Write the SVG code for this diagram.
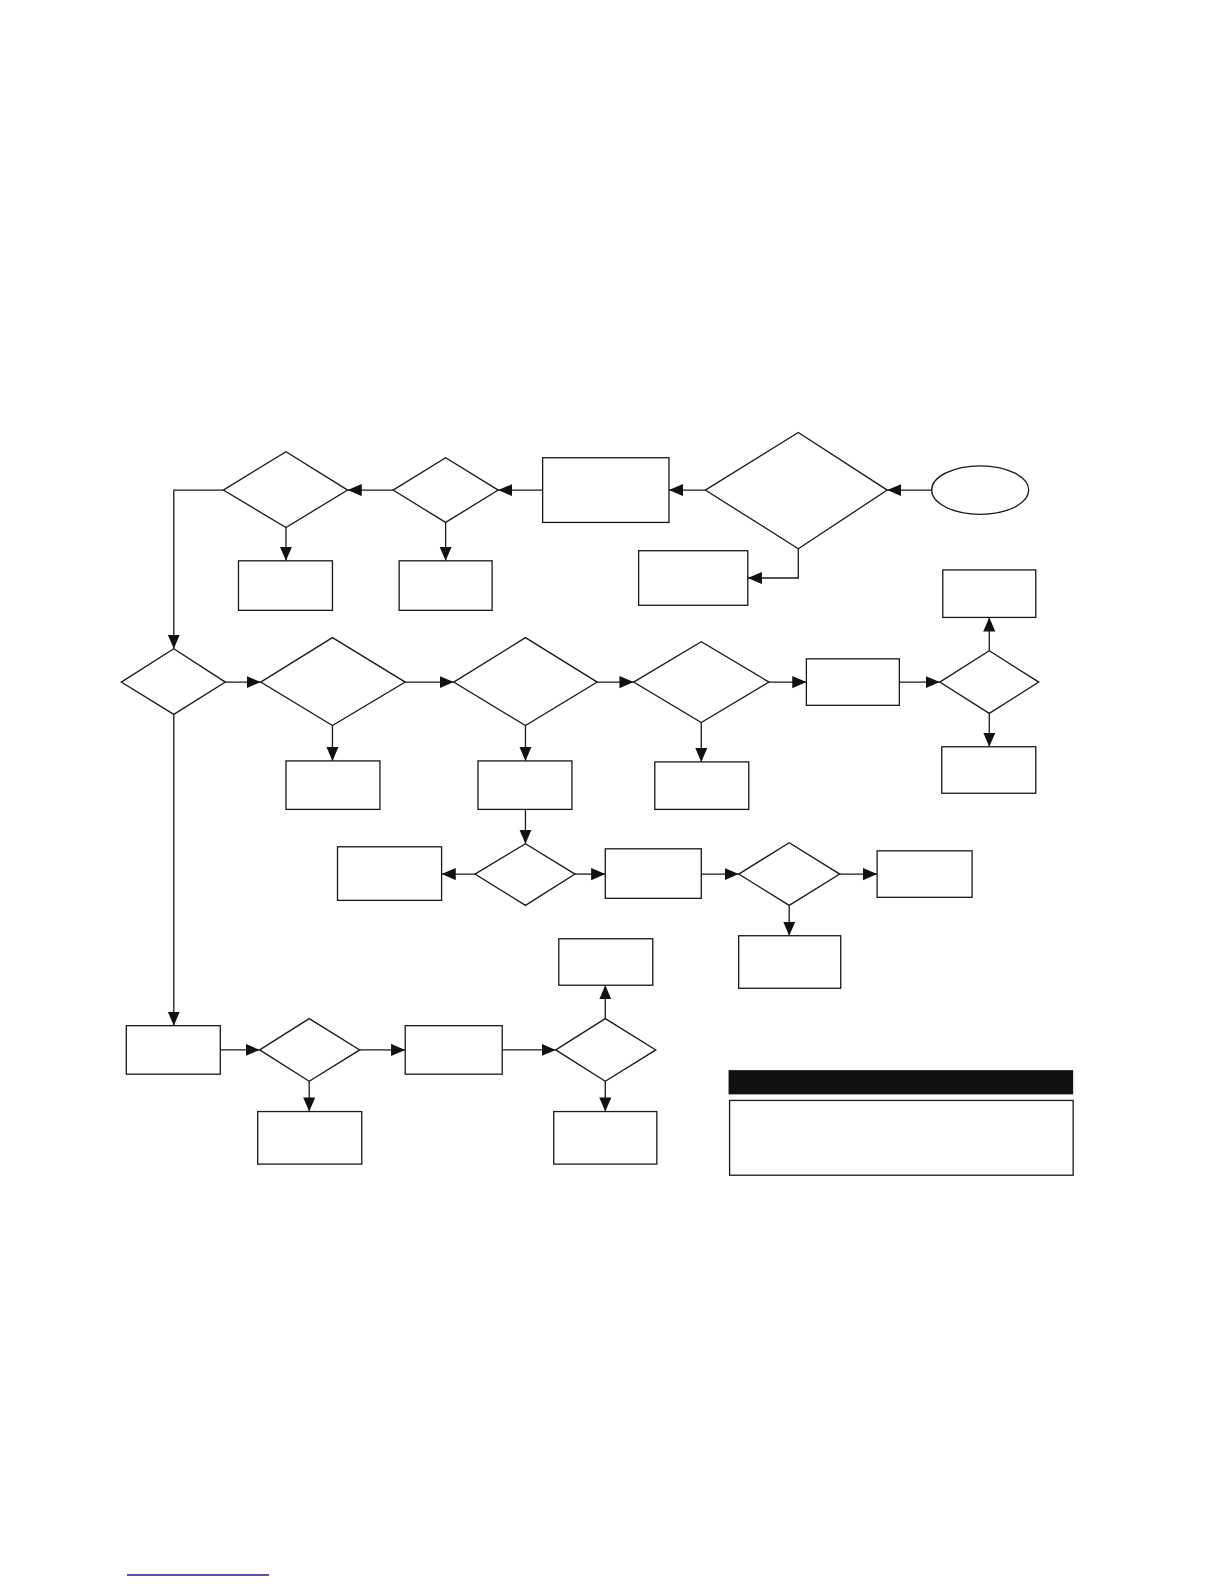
<svg xmlns="http://www.w3.org/2000/svg" width="1224" height="1584" viewBox="0 0 1224 1584">
<style>
.n{fill:#fff;stroke:#1a1a1a;stroke-width:1.3}
.c{fill:none;stroke:#1a1a1a;stroke-width:1.3;marker-end:url(#ah)}
</style>
<defs>
<marker id="ah" markerUnits="userSpaceOnUse" markerWidth="16" markerHeight="14" refX="14" refY="6" orient="auto">
<path d="M0,0 L14,6 L0,12 z" fill="#111"/>
</marker>
</defs>
<rect width="1224" height="1584" fill="#fff"/>
<g transform="scale(1.0105)">
<g id="connectors">
<path class="c" d="M922,485 H878"/>
<path class="c" d="M698,485 H662"/>
<path class="c" d="M790,543 V572 H740"/>
<path class="c" d="M537,485 H493"/>
<path class="c" d="M441,517 V555"/>
<path class="c" d="M389,485 H344"/>
<path class="c" d="M283,522 V555"/>
<path class="c" d="M221,485 H172 V642"/>
<path class="c" d="M223,675 H258"/>
<path class="c" d="M329,718 V753"/>
<path class="c" d="M401,675 H449"/>
<path class="c" d="M520,718 V753"/>
<path class="c" d="M591,675 H627"/>
<path class="c" d="M694,715 V754"/>
<path class="c" d="M761,675 H798"/>
<path class="c" d="M890,675 H930"/>
<path class="c" d="M979,644 V611"/>
<path class="c" d="M979,706 V739"/>
<path class="c" d="M520,801 V835"/>
<path class="c" d="M470,865 H437"/>
<path class="c" d="M569,865 H599"/>
<path class="c" d="M694,865 H731"/>
<path class="c" d="M831,865 H868"/>
<path class="c" d="M781,896 V926"/>
<path class="c" d="M172,707 V1015"/>
<path class="c" d="M218,1039 H257"/>
<path class="c" d="M306,1070 V1100"/>
<path class="c" d="M356,1039 H401"/>
<path class="c" d="M497,1039 H550"/>
<path class="c" d="M599,1008 V975"/>
<path class="c" d="M599,1070 V1100"/>
</g>
<g id="start"><ellipse class="n" cx="970" cy="485" rx="48" ry="24"/></g>
<g id="d1"><polygon class="n" points="698,485 790,428 878,485 790,543"/></g>
<g id="r1"><rect class="n" x="537" y="453" width="125" height="64"/></g>
<g id="r2"><rect class="n" x="632" y="545" width="108" height="54"/></g>
<g id="d2"><polygon class="n" points="389,485 441,453 493,485 441,517"/></g>
<g id="r3"><rect class="n" x="395" y="555" width="92" height="49"/></g>
<g id="d3"><polygon class="n" points="221,485 283,447 344,485 283,522"/></g>
<g id="r4"><rect class="n" x="236" y="555" width="93" height="49"/></g>
<g id="d4"><polygon class="n" points="120,675 172,642 223,675 172,707"/></g>
<g id="d5"><polygon class="n" points="258,675 329,631 401,675 329,718"/></g>
<g id="r5"><rect class="n" x="283" y="753" width="93" height="48"/></g>
<g id="d6"><polygon class="n" points="449,675 520,631 591,675 520,718"/></g>
<g id="r6"><rect class="n" x="473" y="753" width="93" height="48"/></g>
<g id="d7"><polygon class="n" points="627,675 694,635 761,675 694,715"/></g>
<g id="r7"><rect class="n" x="648" y="754" width="93" height="47"/></g>
<g id="r8"><rect class="n" x="798" y="652" width="92" height="46"/></g>
<g id="d8"><polygon class="n" points="930,675 979,644 1028,675 979,706"/></g>
<g id="r9"><rect class="n" x="933" y="564" width="92" height="47"/></g>
<g id="r10"><rect class="n" x="932" y="739" width="93" height="46"/></g>
<g id="d9"><polygon class="n" points="470,865 520,835 569,865 520,896"/></g>
<g id="r11"><rect class="n" x="334" y="838" width="103" height="53"/></g>
<g id="r12"><rect class="n" x="599" y="840" width="95" height="49"/></g>
<g id="d10"><polygon class="n" points="731,865 781,834 831,865 781,896"/></g>
<g id="r13"><rect class="n" x="868" y="842" width="94" height="46"/></g>
<g id="r14"><rect class="n" x="731" y="926" width="101" height="52"/></g>
<g id="r15"><rect class="n" x="125" y="1015" width="93" height="48"/></g>
<g id="d11"><polygon class="n" points="257,1039 306,1008 356,1039 306,1070"/></g>
<g id="r16"><rect class="n" x="255" y="1100" width="103" height="52"/></g>
<g id="r17"><rect class="n" x="401" y="1015" width="96" height="48"/></g>
<g id="d12"><polygon class="n" points="550,1039 599,1008 649,1039 599,1070"/></g>
<g id="r18"><rect class="n" x="553" y="929" width="93" height="46"/></g>
<g id="r19"><rect class="n" x="548" y="1100" width="102" height="52"/></g>
<g id="legend">
<rect x="721" y="1059" width="341" height="24" fill="#111"/>
<rect class="n" x="722" y="1089" width="340" height="74"/>
</g>
</g>
<line x1="127" y1="1575" x2="269" y2="1575" stroke="#1a1a9a" stroke-width="1.3"/>
</svg>
